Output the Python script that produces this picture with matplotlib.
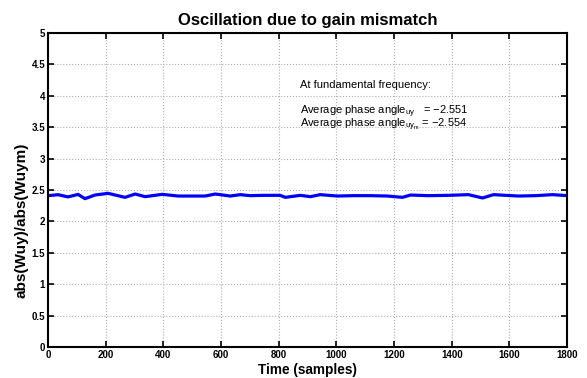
import numpy as np
import matplotlib
matplotlib.use("Agg")
import matplotlib.pyplot as plt

plt.rcParams['font.family'] = ['Liberation Sans', 'DejaVu Sans']
plt.rcParams['mathtext.fontset'] = 'custom'
plt.rcParams['mathtext.rm'] = 'Liberation Sans'

# ratio (sample index, value)
t = [0, 35, 69, 104, 128, 163, 208, 267, 302, 337, 396, 451, 510, 545, 580,
     632, 667, 701, 746, 805, 823, 875, 910, 944, 1003, 1059, 1118, 1177,
     1229, 1257, 1319, 1389, 1458, 1507, 1545, 1587, 1632, 1691, 1750, 1800]
ratio = [2.41, 2.425, 2.39, 2.43, 2.362, 2.42, 2.447, 2.383, 2.436, 2.394,
         2.431, 2.404, 2.404, 2.404, 2.436, 2.404, 2.426, 2.41, 2.415, 2.415,
         2.383, 2.415, 2.394, 2.426, 2.404, 2.41, 2.41, 2.404, 2.383, 2.42,
         2.41, 2.415, 2.426, 2.373, 2.426, 2.415, 2.404, 2.41, 2.426, 2.41]

xticks = np.arange(0, 1801, 200)
yticks = np.arange(0, 5.01, 0.5)
ytick_labels = ["0", "0.5", "1", "1.5", "2", "2.5", "3", "3.5", "4", "4.5", "5"]

fig = plt.figure(figsize=(5.87, 3.78), dpi=100)
ax = fig.add_axes([0.0818, 0.082, 0.8842, 0.8307])

ax.plot(t, ratio, color='#0000ff', linewidth=2.3, solid_joinstyle='round')

ax.set_xlim(0, 1800)
ax.set_ylim(0, 5)
ax.set_xticks(xticks)
ax.set_yticks(yticks)
ax.set_yticklabels(ytick_labels)
ax.grid(True, linestyle=':', color='#b0b0b0', linewidth=0.8)
ax.tick_params(direction='in', top=True, right=True, length=4, width=1.2,
               labelsize=7, pad=2)
for lab in ax.get_xticklabels() + ax.get_yticklabels():
    lab.set_fontweight('bold')
for s in ax.spines.values():
    s.set_linewidth(1.5)

ax.set_title("Oscillation due to gain mismatch", fontsize=12, fontweight='bold', pad=6)
ax.set_xlabel("Time (samples)", fontsize=9.8, fontweight='bold', labelpad=2)
ax.set_ylabel("abs(Wuy)/abs(Wuym)", fontsize=11, fontweight='bold')
ax.yaxis.set_label_coords(-0.037, 0.405)

ax.text(874, 4.12, "At fundamental frequency:", fontsize=8)
ax.text(874, 3.71, "Average phase angle$_{\\rm uy}$   = \u22122.551", fontsize=8)
ax.text(874, 3.50, "Average phase angle$_{\\rm uy_m}$ = \u22122.554", fontsize=8)

fig.savefig("out.png", dpi=100)
